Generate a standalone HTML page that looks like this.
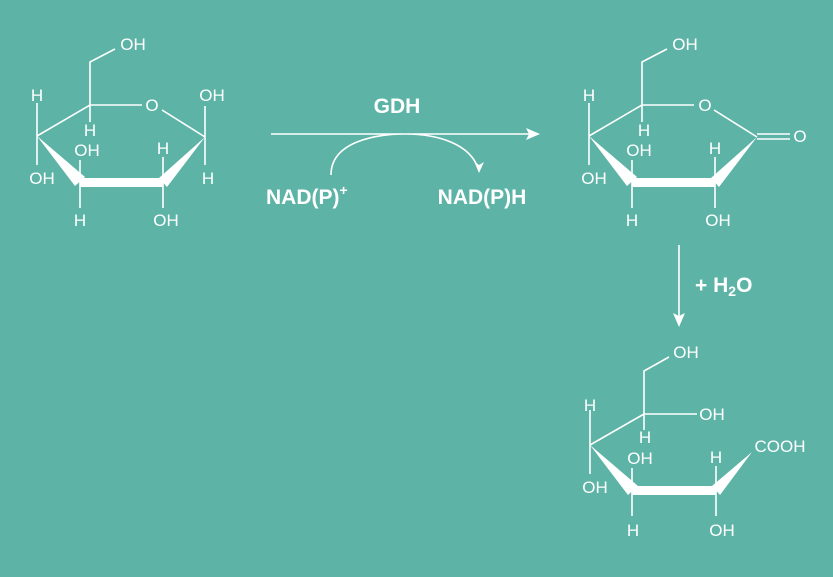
<!DOCTYPE html>
<html><head><meta charset="utf-8"><style>
html,body{margin:0;padding:0;background:#5db4a6;}
svg{display:block}
text{font-family:"Liberation Sans",Arial,sans-serif;fill:#fff}
.s{font-size:17px;text-anchor:middle}
.b{font-size:21px;font-weight:bold}
</style></head><body>
<svg width="833" height="577" viewBox="0 0 833 577">
<g stroke="#fff" stroke-width="1.6" fill="none">
 <path d="M37,136 L90,105 L142,105 M162,110 L205,137 M90,105 L90,62 L115,49 M37,136 V103 M37,136 V165 M90,105 V122 M80,182 V160 M80,182 V208 M163,182 V157 M163,182 V208 M205,137 V106 M205,137 V165"/>
 <path d="M589,136 L642,105 L694,105 M714,110 L757,137 M642,105 L642,62 L667,49 M589,136 V103 M589,136 V165 M642,105 V122 M632,182 V160 M632,182 V208 M715,182 V157 M715,182 V208 M757,134 H790 M757,139 H790"/>
 <path d="M590,445 L644,414 M644,414 L644,371 L669,357 M644,414 H697 M590,445 V410 M590,445 V474 M644,414 V430 M632,490 V468 M632,490 V516 M716,490 V466 M716,490 V516"/>
 <path d="M271,134 H536 M331,175 C331,140 380,134 405,134 C440,134 470,145 478,168 M679,245 V322"/>
</g>
<g fill="#fff">
 <polygon points="37,136 75,186 85,177"/><polygon points="80,178 163,178 163,187 80,187"/><polygon points="205,137 159,178 167,187"/>
 <polygon points="589,136 627,186 637,177"/><polygon points="632,178 715,178 715,187 632,187"/><polygon points="757,137 711,178 719,187"/>
 <polygon points="590,445 628,495 638,486"/><polygon points="632,486 716,486 716,495 632,495"/><polygon points="752,452 712,486 720,495"/>
 <polygon points="540,134 526,128 529,134 526,140"/>
 <polygon points="479,173 474,161 479,165 484,162"/>
 <polygon points="679,327 673,313 679,316 685,313"/>
</g>
<text class="s" x="133" y="50">OH</text>
<text class="s" x="37" y="101">H</text>
<text class="s" x="152" y="111">O</text>
<text class="s" x="212" y="101">OH</text>
<text class="s" x="90" y="136">H</text>
<text class="s" x="87" y="156">OH</text>
<text class="s" x="163" y="154">H</text>
<text class="s" x="42" y="184">OH</text>
<text class="s" x="208" y="184">H</text>
<text class="s" x="80" y="226">H</text>
<text class="s" x="166" y="226">OH</text>
<text class="b" x="397" y="113" text-anchor="middle">GDH</text>
<text class="b" x="266" y="204">NAD(P)<tspan font-size="14" dy="-9">+</tspan></text>
<text class="b" x="482" y="204" text-anchor="middle">NAD(P)H</text>
<text class="s" x="685" y="50">OH</text>
<text class="s" x="589" y="101">H</text>
<text class="s" x="705" y="111">O</text>
<text class="s" x="800" y="142">O</text>
<text class="s" x="644" y="136">H</text>
<text class="s" x="639" y="156">OH</text>
<text class="s" x="715" y="154">H</text>
<text class="s" x="594" y="184">OH</text>
<text class="s" x="632" y="226">H</text>
<text class="s" x="718" y="226">OH</text>
<text class="b" x="695" y="292">+ H<tspan font-size="14" dy="4">2</tspan><tspan dy="-4">O</tspan></text>
<text class="s" x="686" y="358">OH</text>
<text class="s" x="590" y="411">H</text>
<text class="s" x="712" y="420">OH</text>
<text class="s" x="645" y="443">H</text>
<text class="s" x="780" y="452">COOH</text>
<text class="s" x="640" y="464">OH</text>
<text class="s" x="716" y="463">H</text>
<text class="s" x="595" y="493">OH</text>
<text class="s" x="633" y="536">H</text>
<text class="s" x="722" y="536">OH</text>
</svg>
</body></html>
